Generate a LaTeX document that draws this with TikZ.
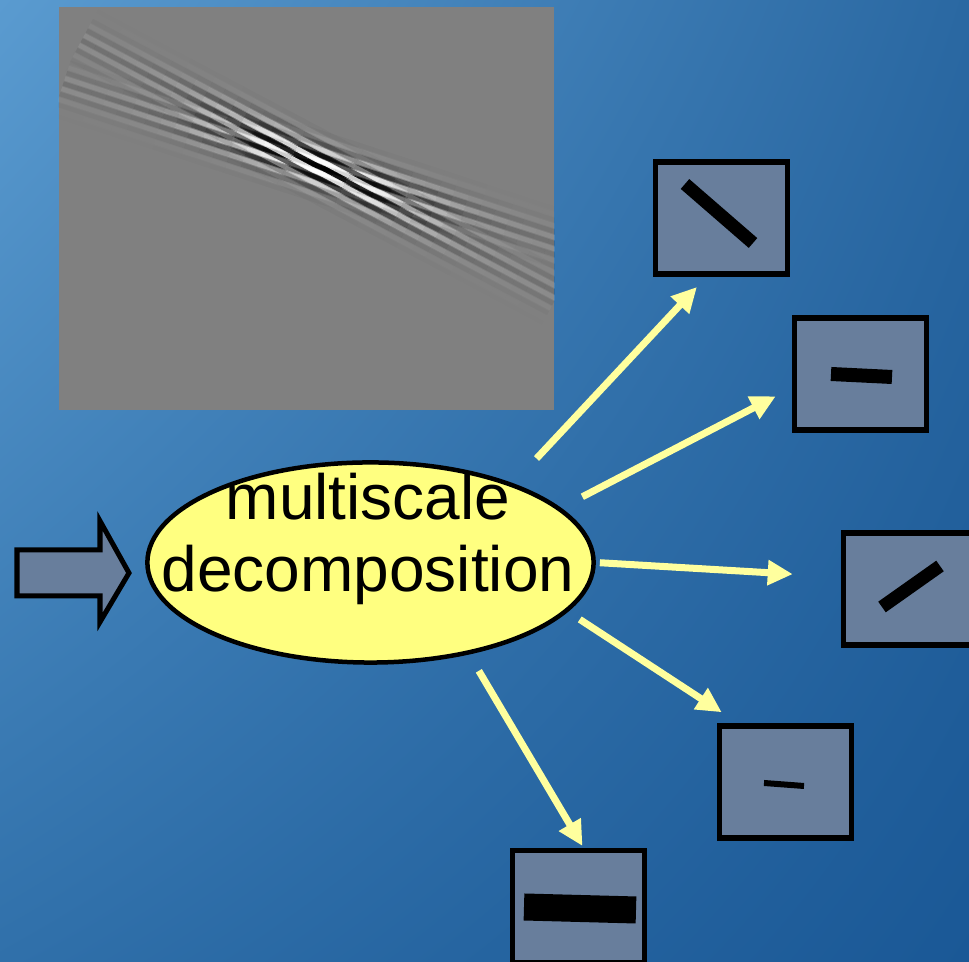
\documentclass[tikz,border=0pt]{standalone}
\usepackage{fontspec}
\setmainfont{Liberation Sans}
\usetikzlibrary{positioning,calc,arrows.meta,shapes.geometric,shadings}
\definecolor{BgLight}{HTML}{5A9BD0}
\definecolor{BgMid}{HTML}{2A68A2}
\definecolor{BgLow}{HTML}{3070AA}
\definecolor{BgDark}{HTML}{1A5896}
\definecolor{SlateFill}{HTML}{687E9C}
\definecolor{PaleYellow}{HTML}{FFFF9E}
\definecolor{EllipseYellow}{HTML}{FFFF80}
\definecolor{MidGray}{HTML}{808080}

\begin{document}
\begin{tikzpicture}[
  x=0.01cm, y=-0.01cm,
  scalebox/.style={draw, line width=0.055cm, fill=SlateFill,
                   minimum width=1.32cm, minimum height=1.12cm, inner sep=0pt},
  decomp/.style={ellipse, draw, line width=0.045cm, fill=EllipseYellow,
                 minimum width=4.46cm, minimum height=2.0cm, inner sep=0pt},
  bar/.style={black, line cap=butt},
  arr/.style={-{Triangle[length=0.25cm,width=0.24cm]}, PaleYellow, line width=0.07cm}
]
\useasboundingbox (0,0) rectangle (969,962);
\clip (0,0) rectangle (969,962);
\shade[upper left=BgLight, upper right=BgMid, lower left=BgLow, lower right=BgDark]
  (0,0) rectangle (969,962);

\node[fill=MidGray, minimum width=4.95cm, minimum height=4.03cm, inner sep=0pt] (gabor) at (306.5,208.5) {};
\begin{scope}
  \clip (gabor.north west) rectangle (gabor.south east);
  \foreach \ang in {18,28}{
    \foreach \k in {-6,...,6}{
      \pgfmathsetmacro\amp{exp(-((\k)/3.2)^2)}
      \pgfmathtruncatemacro\stripeodd{mod(abs(\k),2)}
      \ifnum\stripeodd=0 \def\stripecol{black}\else\def\stripecol{white}\fi
      \foreach \s in {-18,...,17}{
        \pgfmathsetmacro\op{\amp*(0.85*exp(-(((\s)+0.5)*15/115)^2)+0.1)}
        \pgfmathsetmacro\xa{320+(\s)*15*cos(\ang)-(\k)*5.5*sin(\ang)}
        \pgfmathsetmacro\ya{167+(\s)*15*sin(\ang)+(\k)*5.5*cos(\ang)}
        \pgfmathsetmacro\xb{320+((\s)+1)*15*cos(\ang)-(\k)*5.5*sin(\ang)}
        \pgfmathsetmacro\yb{167+((\s)+1)*15*sin(\ang)+(\k)*5.5*cos(\ang)}
        \draw[\stripecol, opacity=\op, line width=0.045cm] (\xa,\ya) -- (\xb,\yb);
      }
    }
  }
\end{scope}

\node[decomp] (decomp) at (370.5,562.5) {};
\node[font=\fontsize{18.2}{20.5}\selectfont, align=center, inner sep=0pt] (decomplabel)
  at (368,539) {multiscale\\decomposition};

\draw[line width=0.05cm, fill=SlateFill]
  (17,550) -- (100,550) -- (100,521) -- (129,573) -- (100,622) -- (100,596) -- (17,596) -- cycle;

\node[scalebox] (box1) at (721.5,218)   {};
\node[scalebox] (box2) at (860.5,374)   {};
\node[scalebox] (box3) at (909.5,589)   {};
\node[scalebox] (box4) at (785.5,782)   {};
\node[scalebox] (box5) at (578.5,906.5) {};

\draw[bar, line width=0.13cm] ([shift={(-36.5,-34)}]box1.center) -- ([shift={(31.5,25)}]box1.center);
\draw[bar, line width=0.14cm] ([shift={(-29.5,0)}]box2.center)   -- ([shift={(31.5,3)}]box2.center);
\draw[bar, line width=0.13cm] ([shift={(-27.5,18)}]box3.center)  -- ([shift={(30.5,-23)}]box3.center);
\draw[bar, line width=0.06cm] ([shift={(-21.5,1)}]box4.center)   -- ([shift={(18.5,4)}]box4.center);
\draw[bar, line width=0.27cm] ([shift={(-54.5,0.5)}]box5.center) -- ([shift={(57.5,3.5)}]box5.center);

\draw[arr, shorten <=0.34cm, shorten >=0.14cm] (decomp.29)   -- ([xshift=-0.15cm]box1.south);
\draw[arr, shorten <=0.24cm, shorten >=0.18cm] (decomp.16)   -- ([yshift=-0.14cm]box2.west);
\draw[arr, shorten <=0.04cm, shorten >=0.48cm] (decomp.east) -- ([yshift=0.12cm]box3.west);
\draw[arr, shorten <=0.14cm, shorten >=0.20cm] (decomp.-14)  -- ([xshift=-0.47cm]box4.north);
\draw[arr, shorten <=0.19cm, shorten >=0.02cm] (decomp.-43)  -- ([xshift=0.05cm]box5.north);
\end{tikzpicture}
\end{document}
